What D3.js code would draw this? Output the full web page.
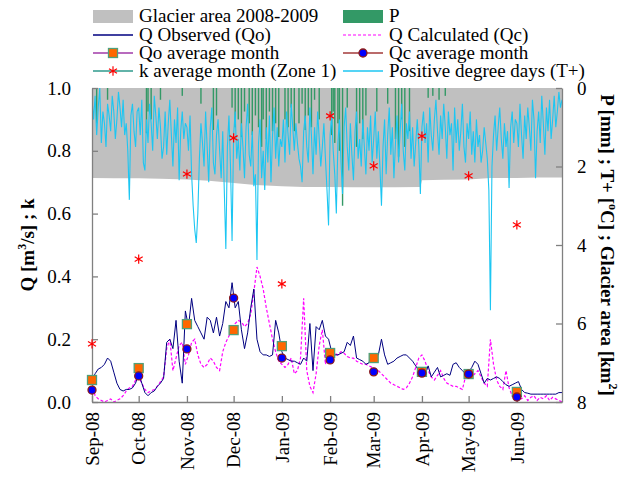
<!DOCTYPE html>
<html>
<head>
<meta charset="utf-8">
<script src="https://cdn.jsdelivr.net/npm/d3@7"></script>
<style>
  body { margin: 0; background: #fff; }
</style>
</head>
<body>
<div class="svg-container"></div>
<script>
var width = 633;
var height = 477;
var serif = "'Liberation Serif', 'Times New Roman', Times, serif";

var plot = { "left": 92, "right": 562, "top": 88, "bottom": 402 };

// x axis: month ticks and time span
var startDate = "2008-09-01";
var endDate = "2009-06-30";
var monthTicks = ["2008-09-01", "2008-10-01", "2008-11-01", "2008-12-01", "2009-01-01",
                  "2009-02-01", "2009-03-01", "2009-04-01", "2009-05-01", "2009-06-01"];

// Q observed / calculated [m3/s], one value every 2 days from Sep 1 2008
var qObserved = [0.07, 0.09, 0.105, 0.11, 0.12, 0.14, 0.13, 0.095, 0.06, 0.04,
  0.035, 0.04, 0.04, 0.045, 0.06, 0.09, 0.06, 0.03, 0.02, 0.03,
  0.035, 0.05, 0.06, 0.075, 0.19, 0.20, 0.17, 0.26, 0.13, 0.06,
  0.29, 0.24, 0.33, 0.26, 0.24, 0.22, 0.20, 0.27, 0.26, 0.22,
  0.27, 0.21, 0.25, 0.32, 0.30, 0.38, 0.30, 0.32, 0.23, 0.17,
  0.22, 0.30, 0.36, 0.20, 0.16, 0.15, 0.15, 0.145, 0.15, 0.26,
  0.22, 0.16, 0.14, 0.135, 0.13, 0.13, 0.125, 0.12, 0.14, 0.13,
  0.25, 0.10, 0.24, 0.23, 0.26, 0.21, 0.20, 0.16, 0.15, 0.15,
  0.155, 0.16, 0.19, 0.18, 0.21, 0.14, 0.135, 0.13, 0.12, 0.125,
  0.155, 0.14, 0.15, 0.20, 0.15, 0.12, 0.125, 0.13, 0.14, 0.145,
  0.15, 0.15, 0.14, 0.13, 0.115, 0.10, 0.095, 0.09, 0.115, 0.08,
  0.095, 0.11, 0.08, 0.085, 0.09, 0.085, 0.12, 0.125, 0.11, 0.10,
  0.09, 0.095, 0.11, 0.13, 0.12, 0.09, 0.06, 0.075, 0.07, 0.075,
  0.08, 0.075, 0.065, 0.055, 0.05, 0.055, 0.06, 0.065, 0.04, 0.03,
  0.028, 0.025, 0.025, 0.025, 0.025, 0.025, 0.025, 0.025, 0.025, 0.025,
  0.03, 0.03];

var qCalculated = [0.06, 0.02, 0.01, 0.005, 0.0, 0.005, 0.01, 0.0, 0.005, 0.01,
  0.02, 0.035, 0.045, 0.05, 0.07, 0.08, 0.06, 0.04, 0.03, 0.035,
  0.04, 0.05, 0.065, 0.08, 0.17, 0.20, 0.10, 0.14, 0.18, 0.19,
  0.12, 0.15, 0.19, 0.20, 0.15, 0.12, 0.11, 0.12, 0.14, 0.13,
  0.11, 0.10, 0.16, 0.19, 0.21, 0.23, 0.25, 0.26, 0.255, 0.24,
  0.25, 0.28, 0.35, 0.43, 0.40, 0.36, 0.30, 0.25, 0.20, 0.16,
  0.13, 0.12, 0.11, 0.12, 0.14, 0.09, 0.10, 0.14, 0.33, 0.10,
  0.05, 0.03, 0.09, 0.18, 0.23, 0.12, 0.16, 0.16, 0.155, 0.15,
  0.16, 0.155, 0.145, 0.14, 0.14, 0.13, 0.125, 0.12, 0.12, 0.115,
  0.11, 0.105, 0.10, 0.09, 0.08, 0.07, 0.06, 0.055, 0.05, 0.045,
  0.04, 0.045, 0.06, 0.08, 0.11, 0.14, 0.15, 0.13, 0.10, 0.08,
  0.07, 0.085, 0.10, 0.075, 0.06, 0.055, 0.05, 0.05, 0.045, 0.04,
  0.08, 0.085, 0.08, 0.09, 0.10, 0.08, 0.06, 0.05, 0.20, 0.12,
  0.07, 0.05, 0.04, 0.10, 0.045, 0.02, 0.01, 0.015, 0.01, 0.02,
  0.005, 0.015, 0.02, 0.005, 0.015, 0.01, 0.02, 0.005, 0.015, 0.01,
  0.005, 0.0];

// positive degree days T+ [C], daily from Sep 1 2008 (right axis)
var tPlus = [
  // Sep
  0.3, 0.8, 0.2, 1.2, 0.5, 0.0, 1.4, 0.6, 0.9, 1.5, 0.4, 0.7, 1.1, 0.2, 0.6,
  1.3, 0.8, 0.1, 0.5, 1.0, 0.3, 1.2, 0.9, 1.6, 2.85, 0.7, 0.4, 1.1, 1.5, 0.6,
  // Oct
  0.5, 1.2, 0.3, 1.9, 2.1, 0.8, 1.4, 0.4, 0.9, 1.6, 0.2, 0.7, 1.3, 0.5, 1.0, 1.8,
  1.5, 0.6, 1.7, 0.9, 0.3, 1.2, 2.0, 0.8, 1.4, 0.5, 2.35, 1.1, 0.6, 1.3, 0.9,
  // Nov
  1.0, 1.6, 0.7, 2.2, 3.0, 3.6, 3.95, 3.2, 1.8, 0.9, 1.4, 2.0, 0.6, 1.5, 2.4,
  1.0, 0.5, 1.9, 2.2, 1.2, 0.8, 1.6, 2.3, 1.1, 2.6, 4.1, 1.5, 0.7, 2.0, 3.9,
  // Dec
  1.2, 0.6, 1.8, 1.3, 2.1, 0.9, 1.5, 2.3, 1.0, 0.4, 1.7, 2.0, 1.1, 2.5, 2.2, 4.38,
  1.4, 0.8, 2.3, 1.6, 2.6, 1.0, 1.9, 0.7, 2.4, 1.2, 0.5, 1.8, 1.0, 2.0, 1.3,
  // Jan
  1.5, 0.8, 1.9, 0.6, 1.2, 1.7, 0.4, 1.0, 1.6, 0.9, 1.4, 1.8, 2.0, 2.4, 1.1, 0.7,
  1.5, 1.9, 0.5, 1.2, 2.2, 1.0, 1.7, 0.6, 1.3, 2.0, 1.5, 0.9, 1.8, 2.6, 3.5,
  // Feb
  1.2, 0.7, 1.6, 2.2, 3.2, 1.4, 0.8, 1.9, 2.7, 1.0, 0.5, 1.5, 2.1, 0.9,
  1.7, 2.35, 1.1, 0.6, 1.8, 1.3, 2.0, 0.8, 1.5, 2.2, 1.0, 1.6, 0.7, 1.9,
  // Mar
  1.3, 0.6, 1.8, 1.1, 2.0, 3.0, 1.5, 0.8, 2.2, 1.2, 0.5, 1.7, 1.0, 2.3, 1.4, 0.7,
  1.9, 1.1, 0.4, 1.6, 2.1, 0.9, 1.3, 0.6, 1.8, 1.0, 2.0, 1.4, 0.8, 1.5, 2.7,
  // Apr
  1.0, 0.6, 1.4, 0.9, 1.9, 0.5, 1.2, 1.6, 0.8, 0.3, 1.1, 1.7, 0.7, 1.3, 0.4,
  1.0, 1.8, 0.6, 1.2, 0.9, 2.1, 0.5, 1.4, 0.8, 1.6, 1.1, 0.4, 1.5, 1.9, 0.9,
  // May
  1.3, 0.6, 1.7, 1.1, 1.9, 0.8, 1.5, 1.2, 1.9, 1.6, 1.0, 1.4, 1.8, 2.6, 5.66, 2.0,
  1.2, 0.7, 1.6, 1.0, 0.5, 1.3, 1.8, 0.9, 1.5, 1.1, 2.55, 1.0, 0.6, 1.4, 0.8,
  // Jun
  0.9, 1.5, 0.4, 1.2, 1.8, 0.7, 1.3, 0.5, 1.0, 1.6, 0.3, 0.8, 2.3, 1.1, 0.6,
  1.4, 0.2, 0.9, 1.7, 0.5, 1.1, 0.3, 1.3, 0.8, 0.2, 1.0, 0.6, 0.1, 0.5, 0.3];

// precipitation P [mm]: day offset from Sep 1 2008 and value
var pDays = [3, 10, 35, 36, 38, 44, 58, 70, 78, 80, 90, 92, 94, 96, 98, 101, 103, 105, 107, 109,
  110, 112, 114, 116, 118, 120, 124, 126, 128, 130, 133, 135, 137, 139, 141, 143, 146,
  154, 155, 156, 158, 159, 161, 164, 170, 172, 174, 176, 183, 190, 195, 197, 199, 201, 204,
  216, 219, 223, 227];
var pValues = [0.9, 0.3, 1.15, 0.6, 0.8, 0.3, 0.2, 0.4, 1.07, 0.7, 0.5, 1.0, 0.8, 1.25, 0.6, 0.9, 1.2, 0.7, 1.0, 1.5,
  0.8, 1.3, 0.6, 1.1, 0.9, 1.25, 0.8, 1.0, 0.5, 1.1, 0.9, 0.4, 1.07, 0.7, 1.0, 0.3, 0.8,
  1.2, 0.6, 1.4, 0.9, 1.6, 3.0, 0.5, 1.5, 0.9, 1.3, 0.7, 0.6, 0.4, 1.3, 1.75, 0.8, 1.5, 1.1,
  0.25, 0.2, 0.3, 0.2];

// glacier area [km2]
var glacierDates = ["2008-09-01", "2008-09-15", "2008-10-01", "2008-10-15", "2008-11-01", "2008-11-15",
  "2008-12-01", "2008-12-15", "2009-01-01", "2009-01-15", "2009-02-01", "2009-02-15", "2009-03-01",
  "2009-03-15", "2009-03-31", "2009-04-01", "2009-04-15", "2009-05-01", "2009-05-15", "2009-06-01",
  "2009-06-15", "2009-06-30"];
var glacierArea = [2.29, 2.30, 2.30, 2.31, 2.33, 2.36, 2.42, 2.47, 2.50, 2.52, 2.52, 2.53, 2.53,
  2.53, 2.52, 2.35, 2.34, 2.33, 2.29, 2.29, 2.28, 2.28];

// monthly averages (at month ticks)
var qoMonth = [0.070, 0.108, 0.248, 0.229, 0.178, 0.156, 0.140, 0.096, 0.089, 0.032];
var qcMonth = [0.038, 0.083, 0.169, 0.331, 0.140, 0.134, 0.096, 0.092, 0.089, 0.016];
var kMonth = [0.185, 0.455, 0.726, 0.841, 0.376, 0.911, 0.752, 0.847, 0.720, 0.564];

var leftTicks = [0, 0.2, 0.4, 0.6, 0.8, 1.0];
var rightTicks = [0, 2, 4, 6, 8];

var colors = { glacier: "#c0c0c0", p: "#339966", qo: "#000080", qc: "#ff00ff",
               tplus: "#1cc6f2", square: "#ff6600", squareEdge: "#4fa07a",
               circle: "#0000ff", circleEdge: "#8b1a1a", k: "#ff0000",
               qoLegend: "#a03aa8", qcLegend: "#a33a3a", kLegend: "#2e9a8c", axis: "#808080" };

var svg = d3.select(".svg-container")
            .append("svg")
            .attr("width", width)
            .attr("height", height)
            .style("font-family", serif);

var parseDate = d3.timeParse("%Y-%m-%d");
var start = parseDate(startDate);

var scaleX = d3.scaleTime()
               .domain([start, parseDate(endDate)])
               .range([plot.left, plot.right]);
var scaleQ = d3.scaleLinear().domain([0, 1]).range([plot.bottom, plot.top]);
var scaleR = d3.scaleLinear().domain([0, 8]).range([plot.top, plot.bottom]);

svg.append("clipPath").attr("id", "plotClip")
   .append("rect")
   .attr("x", plot.left).attr("y", plot.top)
   .attr("width", plot.right - plot.left).attr("height", plot.bottom - plot.top);

var g = svg.append("g").attr("clip-path", "url(#plotClip)");

// series as date/value pairs
var qoData = qObserved.map(function(v, i) { return { date: d3.timeDay.offset(start, i * 2), value: v }; });
var qcData = qCalculated.map(function(v, i) { return { date: d3.timeDay.offset(start, i * 2), value: v }; });
var tData = tPlus.map(function(v, i) { return { date: d3.timeDay.offset(start, i), value: v }; });
var pData = pDays.map(function(d, i) { return { date: d3.timeDay.offset(start, d), value: pValues[i] }; });
var glacierData = glacierDates.map(function(d, i) { return { date: parseDate(d), value: glacierArea[i] }; });
var monthData = monthTicks.map(function(d, i) {
  return { date: parseDate(d), qo: qoMonth[i], qc: qcMonth[i], k: kMonth[i] };
});

// glacier area hanging from top (right axis)
g.append("path")
  .datum(glacierData)
  .attr("fill", colors.glacier)
  .attr("d", d3.area()
    .x(function(d) { return scaleX(d.date); })
    .y0(scaleR(0))
    .y1(function(d) { return scaleR(d.value); }));

// precipitation bars
g.selectAll(".pbar")
  .data(pData)
  .enter()
  .append("rect")
  .attr("class", "pbar")
  .attr("x", function(d) { return scaleX(d.date) - 0.7; })
  .attr("y", scaleR(0))
  .attr("width", 1.4)
  .attr("height", function(d) { return scaleR(d.value) - scaleR(0); })
  .attr("fill", colors.p);

// T+ line
g.append("path")
  .datum(tData)
  .attr("fill", "none")
  .attr("stroke", colors.tplus)
  .attr("stroke-width", 1.1)
  .attr("d", d3.line()
    .x(function(d) { return scaleX(d.date); })
    .y(function(d) { return scaleR(d.value); }));

// Q observed and calculated
var qLine = d3.line()
  .x(function(d) { return scaleX(d.date); })
  .y(function(d) { return scaleQ(d.value); });

g.append("path")
  .datum(qcData)
  .attr("fill", "none")
  .attr("stroke", colors.qc)
  .attr("stroke-width", 1.2)
  .attr("stroke-dasharray", "3,2")
  .attr("d", qLine);

g.append("path")
  .datum(qoData)
  .attr("fill", "none")
  .attr("stroke", colors.qo)
  .attr("stroke-width", 1)
  .attr("d", qLine);

// axes
function styleAxis(sel) {
  sel.attr("font-family", null);
  sel.select(".domain").attr("stroke", colors.axis).attr("stroke-width", 1.3);
  sel.selectAll(".tick line").attr("stroke", colors.axis).attr("stroke-width", 1.3);
  sel.selectAll(".tick text")
     .style("font-family", serif)
     .style("font-size", "19px")
     .attr("fill", "#000");
}

svg.append("g")
   .attr("transform", "translate(" + plot.left + ",0)")
   .call(d3.axisLeft(scaleQ).tickValues(leftTicks).tickFormat(d3.format(".1f"))
           .tickSizeInner(-6).tickSizeOuter(0).tickPadding(21))
   .call(styleAxis);

svg.append("g")
   .attr("transform", "translate(" + plot.right + ",0)")
   .call(d3.axisRight(scaleR).tickValues(rightTicks)
           .tickSizeInner(-6).tickSizeOuter(0).tickPadding(15))
   .call(styleAxis);

var xAxis = svg.append("g")
   .attr("transform", "translate(0," + plot.bottom + ")")
   .call(d3.axisBottom(scaleX).tickValues(monthTicks.map(parseDate))
           .tickFormat(d3.timeFormat("%b-%y")).tickSizeInner(-6).tickSizeOuter(0))
   .call(styleAxis);

xAxis.selectAll(".tick text")
   .attr("transform", "rotate(-90)")
   .attr("text-anchor", "end")
   .attr("x", -10)
   .attr("y", 0)
   .attr("dy", "0.33em");

// monthly markers
var markers = svg.append("g");

markers.selectAll(".kmark")
  .data(monthData)
  .enter()
  .append("path")
  .attr("transform", function(d) { return "translate(" + scaleX(d.date) + "," + scaleQ(d.k) + ")"; })
  .attr("d", d3.symbol().type(d3.symbolAsterisk).size(60))
  .attr("fill", "none")
  .attr("stroke", colors.k)
  .attr("stroke-width", 1.2);

markers.selectAll(".qomark")
  .data(monthData)
  .enter()
  .append("rect")
  .attr("x", function(d) { return scaleX(d.date) - 4.5; })
  .attr("y", function(d) { return scaleQ(d.qo) - 4.5; })
  .attr("width", 9)
  .attr("height", 9)
  .attr("fill", colors.square)
  .attr("stroke", colors.squareEdge)
  .attr("stroke-width", 1.3);

markers.selectAll(".qcmark")
  .data(monthData)
  .enter()
  .append("circle")
  .attr("cx", function(d) { return scaleX(d.date); })
  .attr("cy", function(d) { return scaleQ(d.qc); })
  .attr("r", 4)
  .attr("fill", colors.circle)
  .attr("stroke", colors.circleEdge)
  .attr("stroke-width", 1.3);

// axis titles
var leftTitle = svg.append("text")
   .attr("transform", "translate(34," + ((plot.top + plot.bottom) / 2) + ") rotate(-90)")
   .attr("text-anchor", "middle")
   .style("font-family", serif)
   .style("font-size", "19px")
   .style("font-weight", "bold");
leftTitle.append("tspan").text("Q [m");
leftTitle.append("tspan").attr("dy", -8).style("font-size", "12px").text("3");
leftTitle.append("tspan").attr("dy", 8).text("/s] ; k");

var rightTitle = svg.append("text")
   .attr("transform", "translate(601," + ((plot.top + plot.bottom) / 2) + ") rotate(90)")
   .attr("text-anchor", "middle")
   .style("font-family", serif)
   .style("font-size", "19px")
   .style("font-weight", "bold");
rightTitle.append("tspan").text("P [mm] ; T+ [");
rightTitle.append("tspan").attr("dy", -8).style("font-size", "12px").text("o");
rightTitle.append("tspan").attr("dy", 8).text("C] ; Glacier area [km");
rightTitle.append("tspan").attr("dy", -8).style("font-size", "12px").text("2");
rightTitle.append("tspan").attr("dy", 8).text("]");

// legend
var legendCols = [93, 343];
var legendRows = [16, 35, 53, 71];
var legendLabels = ["Glacier area 2008-2009", "P", "Q Observed (Qo)", "Q Calculated (Qc)",
                    "Qo average month", "Qc average month", "k average month (Zone 1)",
                    "Positive degree days (T+)"];

var legend = svg.append("g");

legendLabels.forEach(function(label, i) {
  var lx = legendCols[i % 2];
  var ly = legendRows[Math.floor(i / 2)];
  var item = legend.append("g");

  if (i === 0 || i === 1) {
    item.append("rect")
        .attr("x", lx).attr("y", ly - 6).attr("width", 40).attr("height", 13)
        .attr("fill", i === 0 ? colors.glacier : colors.p);
  } else {
    var stroke = [null, null, colors.qo, colors.qc, colors.qoLegend, colors.qcLegend, colors.kLegend, colors.tplus][i];
    item.append("line")
        .attr("x1", lx).attr("x2", lx + 40).attr("y1", ly).attr("y2", ly)
        .attr("stroke", stroke)
        .attr("stroke-width", i === 3 ? 1.2 : 1.5)
        .attr("stroke-dasharray", i === 3 ? "3,2" : null);
  }
  if (i === 4) {
    item.append("rect").attr("x", lx + 15.5).attr("y", ly - 4.5).attr("width", 9).attr("height", 9)
        .attr("fill", colors.square).attr("stroke", colors.squareEdge).attr("stroke-width", 1.3);
  }
  if (i === 5) {
    item.append("circle").attr("cx", lx + 20).attr("cy", ly).attr("r", 4)
        .attr("fill", colors.circle).attr("stroke", colors.circleEdge).attr("stroke-width", 1.3);
  }
  if (i === 6) {
    item.append("path").attr("transform", "translate(" + (lx + 20) + "," + ly + ")")
        .attr("d", d3.symbol().type(d3.symbolAsterisk).size(60))
        .attr("fill", "none").attr("stroke", colors.k).attr("stroke-width", 1.2);
  }
  item.append("text")
      .attr("x", lx + 46)
      .attr("y", ly + 6)
      .style("font-family", serif)
      .style("font-size", "19px")
      .text(label);
});
</script>
</body>
</html>
